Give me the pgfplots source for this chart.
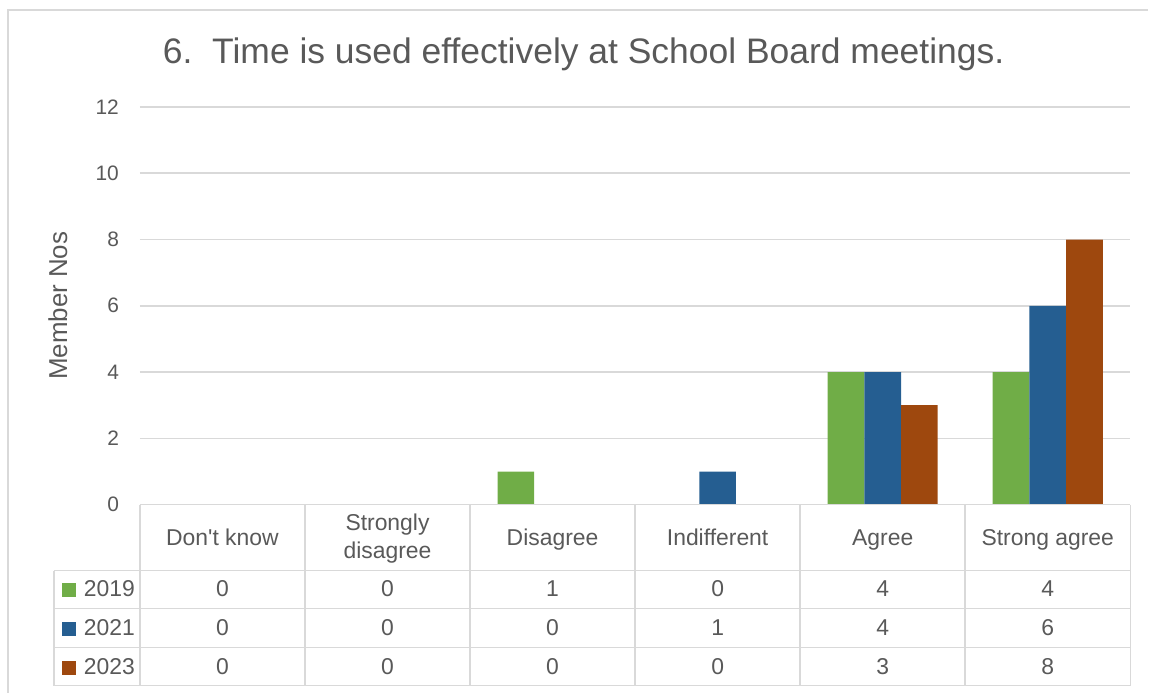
\documentclass[border=0pt]{standalone}
\usepackage{pgfplots}
\pgfplotsset{compat=1.18}
\usepackage{pgfplotstable}
\usepackage{fontspec}
\setmainfont{Liberation Sans}
\definecolor{cg}{HTML}{70AD47}
\definecolor{cb}{HTML}{255E91}
\definecolor{co}{HTML}{9E480E}
\definecolor{txt}{HTML}{595959}
\definecolor{gridc}{HTML}{D9D9D9}

\pgfplotstableread{
x a b c
0.5 0 0 0
1.5 0 0 0
2.5 1 0 0
3.5 0 1 0
4.5 4 4 3
5.5 4 6 8
}\data

\begin{document}
\begin{tikzpicture}
\begin{scope}[x=0.5bp,y=-0.5bp,shift={(-140,-505)}]
\useasboundingbox (0,0) rectangle (1149,693);
\end{scope}
\begin{axis}[at={(0,0)}, anchor=south west, scale only axis,
  width=495.5bp, height=199bp,
  xmin=0, xmax=6, ymin=0, ymax=12,
  ytick={0,2,...,12}, xtick=\empty,
  ymajorgrids, grid style={gridc, line width=0.75bp},
  axis line style={draw=none},
  major tick length=0,
  yticklabel style={font=\fontsize{10.5}{12}\selectfont, text=txt, xshift=-7bp},
  /pgf/number format/assume math mode=true,
  clip=false,
  ybar=0pt, bar width=0.2222]
\addplot[fill=cg, draw=none, bar shift=-0.2222] table[x=x,y=a] {\data};
\addplot[fill=cb, draw=none, bar shift=0] table[x=x,y=b] {\data};
\addplot[fill=co, draw=none, bar shift=0.2222] table[x=x,y=c] {\data};
\end{axis}
\begin{scope}[x=0.5bp,y=-0.5bp,shift={(-140,-505)}]
\draw[gridc, line width=0.75bp] (8,693) -- (8,10) -- (1149,10);
\begin{scope}[gridc, line width=0.75bp]
\draw (140,505) -- (1131,505);
\foreach \i in {0,...,6} \draw ({140+165.17*\i},505) -- ({140+165.17*\i},686);
\foreach \yy in {571,609,648,686} \draw (54,\yy) -- (1131,\yy);
\draw (54,571) -- (54,686);
\end{scope}
\node[text=txt, font=\fontsize{17.8}{21}\selectfont] at (584,54) {6.\ \ Time is used effectively at School Board meetings.};
\node[text=txt, rotate=90, font=\fontsize{13}{15}\selectfont] at (58,306) {Member Nos};
\begin{scope}[every node/.style={text=txt, font=\fontsize{11.5}{14}\selectfont, anchor=base}]
\node at ({140+165.17*0.5},546) {Don\textquotesingle t know};
\node at ({140+165.17*1.5},531) {Strongly};
\node at ({140+165.17*1.5},559) {disagree};
\node at ({140+165.17*2.5},546) {Disagree};
\node at ({140+165.17*3.5},546) {Indifferent};
\node at ({140+165.17*4.5},546) {Agree};
\node at ({140+165.17*5.5},546) {Strong agree};
\foreach \v [count=\i from 0] in {0,0,1,0,4,4} \node at ({140+165.17*(\i+0.5)},597) {\v};
\foreach \v [count=\i from 0] in {0,0,0,1,4,6} \node at ({140+165.17*(\i+0.5)},636) {\v};
\foreach \v [count=\i from 0] in {0,0,0,0,3,8} \node at ({140+165.17*(\i+0.5)},675) {\v};
\fill[cg] (62,583) rectangle (76,597);
\fill[cb] (62,622) rectangle (76,636);
\fill[co] (62,661) rectangle (76,675);
\node[anchor=base west] at (77,597) {2019};
\node[anchor=base west] at (77,636) {2021};
\node[anchor=base west] at (77,675) {2023};
\end{scope}
\end{scope}
\end{tikzpicture}
\end{document}
